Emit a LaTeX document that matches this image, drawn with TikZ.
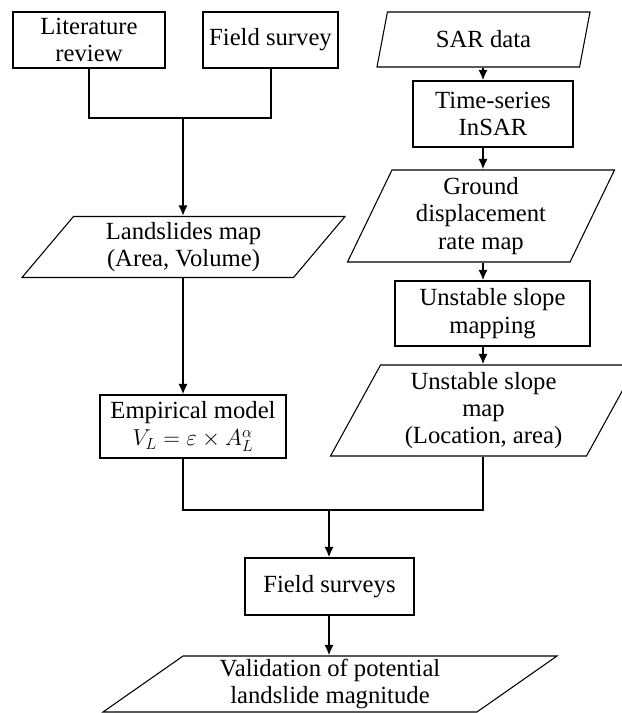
\documentclass[tikz,border=0pt]{standalone}
\usepackage{fontspec}
\setmainfont{Liberation Serif}
\usetikzlibrary{shapes.geometric,arrows.meta}

\begin{document}
\begin{tikzpicture}[x=0.75pt, y=-0.75pt,
  font=\fontsize{18.5}{20.5}\selectfont,
  box/.style={draw, line width=0.8pt, align=center, inner sep=0pt},
  para/.style 2 args={draw, line width=0.8pt, align=center, inner sep=0pt,
    trapezium, trapezium stretches body,
    trapezium left angle=#1, trapezium right angle=#2},
  line/.style={line width=1.5pt},
  arr/.style={line width=1.5pt, -{Latex[length=8pt,width=7pt]}}]

\useasboundingbox (0,0) rectangle (621,713);

\node[box, minimum width=114pt, minimum height=42pt] (lit) at (89,40) {Literature\\review};
\node[box, minimum width=101.25pt, minimum height=42pt] (field) at (270.5,40) {Field survey};

\node[para={59}{121}, minimum width=159.75pt, minimum height=41.25pt] (sar) at (483.5,39.5) {SAR data};
\node[box, minimum width=120pt, minimum height=49.5pt] (ts) at (493,114) {Time-series\\InSAR};
\node[para={60}{120}, minimum width=200.25pt, minimum height=69pt] (ground) at (481,216) {Ground\\displacement\\rate map};
\node[box, minimum width=146.25pt, minimum height=48.75pt] (usm) at (492.5,313.5) {Unstable slope\\mapping};
\node[para={57}{123}, minimum width=229.5pt, minimum height=68.25pt] (usmap) at (483.5,410.5) {Unstable slope\\map\\(Location, area)};

\node[para={44}{136}, minimum width=242.25pt, minimum height=45.75pt] (lsmap) at (183.5,247) {Landslides map\\(Area, Volume)};
\node[box, minimum width=139.5pt, minimum height=47.25pt] (emp) at (193,426.5) {Empirical model\\$V_L=\varepsilon\times A_L^{\alpha}$};

\node[box, minimum width=126.75pt, minimum height=42.75pt] (fs) at (329.5,586.5) {Field surveys};
\node[para={32}{148}, minimum width=340.5pt, minimum height=42pt] (val) at (330,684) {Validation of potential\\landslide magnitude};

\coordinate (j1) at (183,118);
\coordinate (j2) at (329,510);
\coordinate (rx) at (483,0);

\draw[line] (lit.south) |- (j1) -| (field.south);
\draw[arr] (j1) -- (j1 |- lsmap.north);
\draw[arr] (j1 |- lsmap.south) -- (j1 |- emp.north);

\foreach \a/\b in {sar/ts, ts/ground, ground/usm, usm/usmap}
\draw[arr] (rx |- \a.south) -- (rx |- \b.north);

\draw[line] (j1 |- emp.south) |- (j2) -| (rx |- usmap.south);
\draw[arr] (j2) -- (j2 |- fs.north);
\draw[arr] (j2 |- fs.south) -- (j2 |- val.north);
\end{tikzpicture}
\end{document}
